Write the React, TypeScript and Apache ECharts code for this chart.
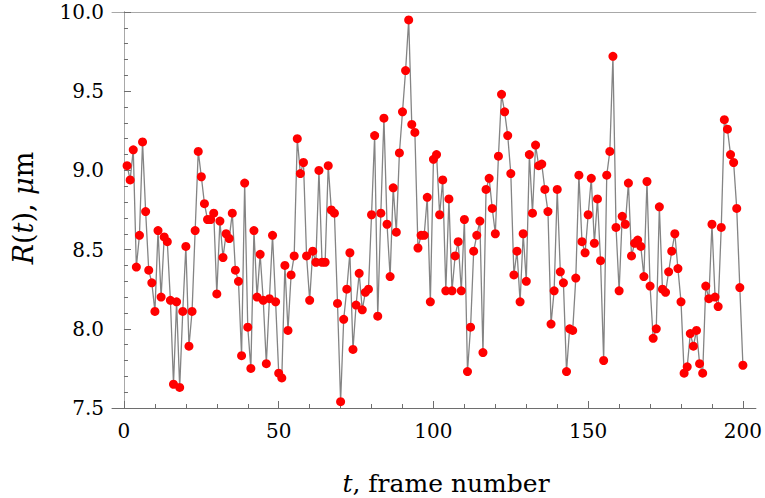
import React, { useEffect, useRef } from "react";
import * as echarts from "echarts";

// Frame index t and measured radius R(t) in micrometres
const frames: number[] = Array.from({ length: 200 }, (_, i) => i + 1);
const radius: number[] = [
  9.03, 8.94, 9.13, 8.39, 8.59, 9.18, 8.74, 8.37, 8.29, 8.11,
  8.62, 8.20, 8.58, 8.55, 8.18, 7.65, 8.17, 7.63, 8.11, 8.52,
  7.89, 8.11, 8.62, 9.12, 8.96, 8.79, 8.69, 8.69, 8.73, 8.22,
  8.68, 8.45, 8.60, 8.57, 8.73, 8.37, 8.30, 7.83, 8.92, 8.01,
  7.75, 8.62, 8.20, 8.47, 8.18, 7.78, 8.19, 8.59, 8.17, 7.72,
  7.69, 8.40, 7.99, 8.34, 8.46, 9.20, 8.98, 9.05, 8.46, 8.18,
  8.49, 8.42, 9.00, 8.42, 8.42, 9.03, 8.75, 8.73, 8.16, 7.54,
  8.06, 8.25, 8.48, 7.87, 8.15, 8.35, 8.12, 8.23, 8.25, 8.72,
  9.22, 8.08, 8.73, 9.33, 8.66, 8.33, 8.89, 8.61, 9.11, 9.37,
  9.63, 9.95, 9.29, 9.24, 8.51, 8.59, 8.59, 8.83, 8.17, 9.07,
  9.10, 8.72, 8.94, 8.24, 8.82, 8.24, 8.46, 8.55, 8.24, 8.69,
  7.73, 8.01, 8.49, 8.59, 8.68, 7.85, 8.88, 8.95, 8.76, 8.60,
  9.09, 9.48, 9.37, 9.22, 8.98, 8.34, 8.49, 8.17, 8.60, 8.30,
  9.10, 8.73, 9.16, 9.03, 9.04, 8.88, 8.74, 8.03, 8.24, 8.88,
  8.36, 8.29, 7.73, 8.00, 7.99, 8.32, 8.97, 8.55, 8.48, 8.72,
  8.95, 8.54, 8.82, 8.43, 7.80, 8.97, 9.12, 9.72, 8.64, 8.24,
  8.71, 8.66, 8.92, 8.46, 8.54, 8.56, 8.52, 8.33, 8.93, 8.27,
  7.94, 8.00, 8.77, 8.25, 8.23, 8.36, 8.49, 8.60, 8.38, 8.17,
  7.72, 7.76, 7.97, 7.89, 7.99, 7.78, 7.72, 8.27, 8.19, 8.66,
  8.20, 8.14, 8.64, 9.32, 9.26, 9.10, 9.05, 8.76, 8.26, 7.77,
];

const xMajorTicks: number[] = [0, 50, 100, 150, 200];
const xMinorTicks: number[] = [
  10, 20, 30, 40, 60, 70, 80, 90, 110, 120, 130, 140, 160, 170, 180, 190,
];

const SERIF = "DejaVu Serif";
const AXIS_COLOR = "#6e6e6e";
const FRAME_COLOR = "#a8a8a8";

export default function App() {
  const ref = useRef<HTMLDivElement>(null);

  useEffect(() => {
    if (!ref.current) return;
    const chart = echarts.init(ref.current, null, { renderer: "svg" });
    const data = frames.map((t, i) => [t, radius[i]]);

    const hiddenAxisBits = {
      axisLabel: { show: false },
      splitLine: { show: false },
    };

    chart.setOption({
      animation: false,
      backgroundColor: "#ffffff",
      textStyle: { fontFamily: SERIF },
      grid: { left: 112, right: 8, top: 12, bottom: 90, containLabel: false },
      xAxis: [
        {
          type: "value",
          position: "bottom",
          min: -3.87,
          max: 204.2,
          axisLine: { show: true, lineStyle: { color: AXIS_COLOR, width: 1 } },
          axisTick: {
            show: true,
            inside: true,
            length: 7,
            customValues: xMajorTicks,
            lineStyle: { color: AXIS_COLOR },
          },
          axisLabel: {
            show: true,
            customValues: xMajorTicks,
            margin: 13,
            color: "#000",
            fontFamily: SERIF,
            fontSize: 20,
          },
          splitLine: { show: false },
        },
        {
          type: "value",
          position: "bottom",
          min: -3.87,
          max: 204.2,
          axisLine: { show: false },
          axisTick: {
            show: true,
            inside: true,
            length: 4,
            customValues: xMinorTicks,
            lineStyle: { color: AXIS_COLOR },
          },
          ...hiddenAxisBits,
        },
        {
          type: "value",
          position: "top",
          min: -3.87,
          max: 204.2,
          axisLine: { show: true, lineStyle: { color: FRAME_COLOR, width: 1 } },
          axisTick: { show: false },
          ...hiddenAxisBits,
        },
      ],
      yAxis: [
        {
          type: "value",
          position: "left",
          min: 7.5,
          max: 10,
          interval: 0.5,
          axisLine: { show: true, lineStyle: { color: AXIS_COLOR, width: 1 } },
          axisTick: {
            show: true,
            inside: true,
            length: 7,
            lineStyle: { color: AXIS_COLOR },
          },
          minorTick: {
            show: true,
            splitNumber: 5,
            length: 4,
            lineStyle: { color: AXIS_COLOR },
          },
          axisLabel: {
            show: true,
            margin: 8,
            color: "#000",
            fontFamily: SERIF,
            fontSize: 20,
            formatter: (v: number) => v.toFixed(1),
          },
          splitLine: { show: false },
          minorSplitLine: { show: false },
        },
        {
          type: "value",
          position: "right",
          min: 7.5,
          max: 10,
          axisLine: { show: true, lineStyle: { color: FRAME_COLOR, width: 1 } },
          axisTick: { show: false },
          ...hiddenAxisBits,
        },
      ],
      graphic: [
        {
          type: "text",
          x: 23,
          y: 208,
          rotation: Math.PI / 2,
          style: {
            text: "{i|R}({i|t}), {i|μ}m",
            fill: "#000",
            fontFamily: SERIF,
            fontSize: 27,
            textAlign: "center",
            textVerticalAlign: "middle",
            rich: {
              i: { fontStyle: "italic", fontFamily: SERIF, fontSize: 27 },
            },
          },
        },
        {
          type: "text",
          x: 446,
          y: 483,
          style: {
            text: "{i|t}, frame number",
            fill: "#000",
            fontFamily: SERIF,
            fontSize: 25,
            textAlign: "center",
            textVerticalAlign: "middle",
            rich: {
              i: { fontStyle: "italic", fontFamily: SERIF, fontSize: 25 },
            },
          },
        },
      ],
      series: [
        {
          type: "line",
          xAxisIndex: 0,
          yAxisIndex: 0,
          data,
          symbol: "circle",
          symbolSize: 9,
          showSymbol: true,
          lineStyle: { color: "#848484", width: 1.3 },
          itemStyle: { color: "#ff0000", borderWidth: 0 },
          emphasis: { disabled: true },
          silent: true,
          z: 3,
        },
      ],
    });

    return () => chart.dispose();
  }, []);

  return (
    <div
      ref={ref}
      style={{ position: "fixed", left: 0, top: 0, width: 765, height: 498 }}
    />
  );
}
